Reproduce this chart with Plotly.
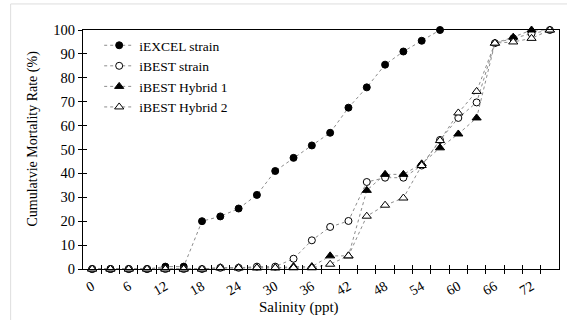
import plotly.graph_objects as go

salinity = [0, 3, 6, 9, 12, 15, 18, 21, 24, 27, 30, 33, 36, 39, 42, 45, 48, 51, 54, 57, 60, 63, 66, 69, 72, 75]
tick_labels = ["0", "6", "12", "18", "24", "30", "36", "42", "48", "54", "60", "66", "72"]
tick_positions = [0, 6, 12, 18, 24, 30, 36, 42, 48, 54, 60, 66, 72]

iexcel = [0, 0, 0, 0, 1, 1, 20, 22, 25.3, 31, 41, 46.5, 51.7, 57, 67.5, 76, 85.5, 91, 95.5, 100]
ibest = [0, 0, 0, 0, 0, 0, 0, 0.5, 0.5, 1, 1, 4.3, 12, 17.6, 20.1, 36.4, 38.2, 38.2, 43.3, 54,
         63.2, 69.7, 94.5, 96.5, 98.5, 100]
hybrid1 = [0, 0, 0, 0, 0, 0, 0, 0.5, 0.5, 0.5, 0.5, 1, 1, 5.5, 5.5, 32.9, 39.6, 39.6, 44, 50.7,
           56.5, 63.2, 94.5, 97, 100, 100]
hybrid2 = [0, 0, 0, 0, 0, 0, 0, 0.5, 0.5, 0.5, 0.5, 0.5, 0.5, 2, 5.5, 22.1, 26.7, 29.7, 43.3, 53.75,
           65.3, 74.3, 94.5, 95, 96.5, 100]

FONT = "Liberation Serif"
LINE = dict(color="#8c8c8c", width=1, dash="dot")

fig = go.Figure()
series = [
    ("iEXCEL strain", iexcel, "circle", "black", 7),
    ("iBEST strain", ibest, "circle", "white", 7),
    ("iBEST Hybrid 1", hybrid1, "triangle-up", "black", 8),
    ("iBEST Hybrid 2", hybrid2, "triangle-up", "white", 8),
]
for name, vals, sym, fill, size in series:
    fig.add_trace(go.Scatter(
        x=salinity[:len(vals)], y=vals, name=name, mode="lines+markers",
        line=LINE, cliponaxis=False,
        marker=dict(symbol=sym, color=fill, size=size, line=dict(color="black", width=1)),
    ))

# helper traces so the overlay tick axes get drawn
fig.add_trace(go.Scatter(x=[], y=[], xaxis="x2", yaxis="y2", showlegend=False))
fig.add_trace(go.Scatter(x=[], y=[], xaxis="x3", yaxis="y", showlegend=False))

step = salinity[1] - salinity[0]
xr = [salinity[0] - step / 2, salinity[-1] + step / 2]
bounds = [s + step / 2 for s in salinity[:-1]]

fig.update_layout(
    width=567, height=320,
    margin=dict(l=82.5, r=8, t=30, b=51),
    paper_bgcolor="white", plot_bgcolor="white",
    font=dict(family=FONT, size=13, color="black"),
    showlegend=True,
    legend=dict(x=0.034, y=1.0, xanchor="left", yanchor="top",
                bgcolor="rgba(0,0,0,0)", font=dict(family=FONT, size=13.5, color="black"),
                tracegroupgap=0, itemwidth=30),
    xaxis=dict(range=xr, tickmode="array", tickvals=tick_positions, ticktext=tick_labels,
               ticks="", tickangle=-30, ticklabelstandoff=3,
               tickfont=dict(family=FONT, size=14, color="black"),
               showgrid=False, zeroline=False,
               showline=True, linecolor="black", linewidth=1, mirror=True),
    xaxis2=dict(range=xr, overlaying="x", anchor="y", side="bottom", tickmode="array",
                tickvals=bounds, ticks="inside", ticklen=4, tickcolor="black",
                showticklabels=False, showgrid=False, zeroline=False, showline=False),
    xaxis3=dict(range=xr, overlaying="x", anchor="y", side="bottom", tickmode="array",
                tickvals=bounds, ticks="outside", ticklen=4, tickcolor="black",
                showticklabels=False, showgrid=False, zeroline=False, showline=False),
    yaxis=dict(range=[0, 100], tickmode="array", tickvals=list(range(0, 101, 10)),
               ticks="outside", ticklen=4, tickcolor="black",
               tickfont=dict(family=FONT, size=14.5, color="black"),
               showgrid=False, zeroline=False, showline=True, linecolor="black",
               linewidth=1, mirror=True),
    yaxis2=dict(range=[0, 100], overlaying="y", anchor="x", side="left", tickmode="array",
                tickvals=list(range(0, 101, 10)), ticks="inside", ticklen=4, tickcolor="black",
                showticklabels=False, showgrid=False, zeroline=False, showline=False),
)

fig.add_annotation(text="Salinity (ppt)", xref="paper", yref="paper", x=0.454, y=-0.16,
                   showarrow=False, font=dict(family=FONT, size=15, color="black"),
                   xanchor="center", yanchor="middle")
fig.add_annotation(text="Cumulatvie Mortality Rate (%)", xref="paper", yref="paper",
                   x=-0.104, y=0.548, textangle=-90, showarrow=False,
                   font=dict(family=FONT, size=14, color="black"),
                   xanchor="center", yanchor="middle")

# light frame of the surrounding page
fig.add_shape(type="line", xref="paper", yref="paper", x0=-0.152, x1=-0.152, y0=1.109, y1=-0.22,
              line=dict(color="#dedede", width=1))
fig.add_shape(type="line", xref="paper", yref="paper", x0=-0.152, x1=1.02, y0=1.109, y1=1.109,
              line=dict(color="#dedede", width=1))

fig.write_html("out.html")
